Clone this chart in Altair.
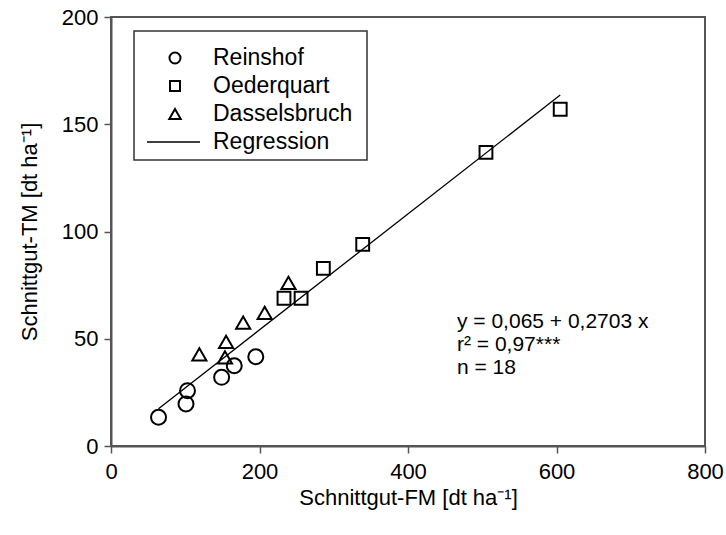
import altair as alt
import pandas as pd

# --- data ---
rein_x = [64, 101, 103, 149, 166, 195]
rein_y = [13.4, 19.6, 25.8, 32.0, 37.4, 41.6]
oed_x = [233, 256, 286, 339, 505, 605]
oed_y = [68.9, 68.9, 82.8, 94.0, 136.9, 157.0]
das_x = [119, 153.5, 155, 178, 207, 239]
das_y = [42.7, 41.3, 48.6, 57.5, 62.1, 76.1]
reg_x = [64, 605]
reg_y = [17.4, 163.6]

x_ticks = [0, 200, 400, 600, 800]
y_ticks = [0, 50, 100, 150, 200]

legend_labels = ["Reinshof", "Oederquart", "Dasselsbruch", "Regression"]
legend_shapes = ["circle", "square", "triangle-up", "line"]
eq_lines = ["y = 0,065 + 0,2703 x", "r² = 0,97***", "n = 18"]

FONT = "Liberation Sans"
AX = "#555555"

xs = alt.Scale(domain=[0, 800], nice=False, zero=False)
ys = alt.Scale(domain=[0, 200], nice=False, zero=False)

xaxis = alt.Axis(values=x_ticks, title="Schnittgut-FM [dt ha⁻¹]", grid=False,
                 tickSize=7, tickWidth=1.5, tickColor=AX, domainColor=AX, domainWidth=2,
                 labelFontSize=22, titleFontSize=22, labelFont=FONT, titleFont=FONT,
                 labelColor="black", titleColor="black", titleFontWeight="normal",
                 labelPadding=8, titlePadding=5, labelFlush=False)
yaxis = alt.Axis(values=y_ticks, title="Schnittgut-TM [dt ha⁻¹]", grid=False,
                 tickSize=7, tickWidth=1.5, tickColor=AX, domainColor=AX, domainWidth=2,
                 labelFontSize=22, titleFontSize=22, labelFont=FONT, titleFont=FONT,
                 labelColor="black", titleColor="black", titleFontWeight="normal",
                 labelPadding=6, titlePadding=20, labelFlush=False)


def pts(xv, yv, shape, size):
    df = pd.DataFrame({"x": xv, "y": yv})
    return alt.Chart(df).mark_point(shape=shape, size=size, filled=False,
                                    stroke="black", strokeWidth=2, opacity=1).encode(
        x=alt.X("x:Q", scale=xs, axis=xaxis),
        y=alt.Y("y:Q", scale=ys, axis=yaxis))


reg_df = pd.DataFrame({"x": reg_x, "y": reg_y})
reg = alt.Chart(reg_df).mark_line(color="black", strokeWidth=1.3).encode(
    x=alt.X("x:Q", scale=xs, axis=xaxis), y=alt.Y("y:Q", scale=ys, axis=yaxis))

layers = [reg,
          pts(rein_x, rein_y, "circle", 225),
          pts(oed_x, oed_y, "square", 165),
          pts(das_x, das_y, "triangle-up", 200)]

# --- legend box (pixel positions relative to plot origin) ---
dummy = alt.Data(values=[{"a": 1}])
layers.append(alt.Chart(dummy).mark_rect(fill="white", stroke="#333333", strokeWidth=1.5).encode(
    x=alt.value(23), x2=alt.value(256), y=alt.value(14), y2=alt.value(143)))

sym_size = {"circle": 121, "square": 100, "triangle-up": 130}
for i, (lab, shp) in enumerate(zip(legend_labels, legend_shapes)):
    ypix = 41 + 28 * i
    if shp == "line":
        layers.append(alt.Chart(dummy).mark_rule(color="black", strokeWidth=1.3).encode(
            x=alt.value(36), x2=alt.value(89), y=alt.value(ypix)))
    else:
        layers.append(alt.Chart(dummy).mark_point(shape=shp, size=sym_size[shp], filled=False,
                                                  stroke="black", strokeWidth=2, opacity=1).encode(
            x=alt.value(64), y=alt.value(ypix)))
    layers.append(alt.Chart(dummy).mark_text(text=lab, align="left", baseline="middle",
                                             font=FONT, fontSize=23, color="black").encode(
        x=alt.value(102), y=alt.value(ypix)))

for i, line in enumerate(eq_lines):
    layers.append(alt.Chart(dummy).mark_text(text=line, align="left", baseline="middle",
                                             font=FONT, fontSize=21, color="black").encode(
        x=alt.value(346), y=alt.value(305 + 23 * i)))

chart = alt.layer(*layers).properties(
    width=594, height=429,
    autosize=alt.AutoSizeParams(type="none"),
    padding={"left": 111, "top": 17, "right": 21, "bottom": 89},
    background="white",
).configure_view(stroke=AX, strokeWidth=2)

chart.save("out.html", embed_options={"renderer": "svg", "actions": False})
